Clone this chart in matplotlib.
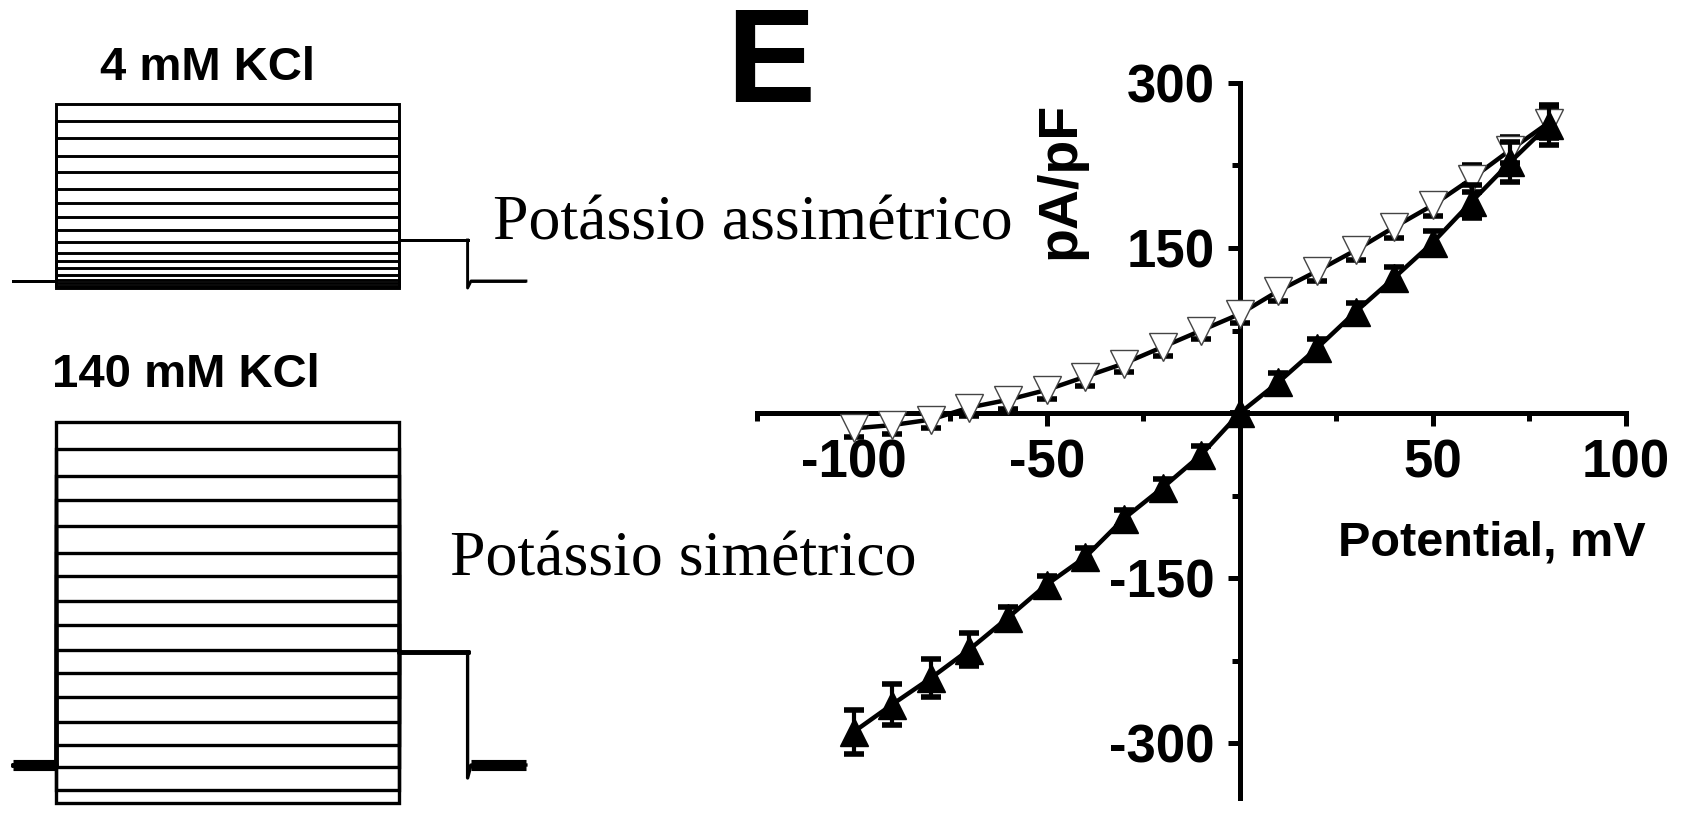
import matplotlib
matplotlib.use("Agg")
from matplotlib import pyplot as plt

plt.rcParams['font.family'] = ['Liberation Sans', 'DejaVu Sans']
plt.rcParams['font.weight'] = 'bold'
plt.rcParams['axes.unicode_minus'] = False

# ============================================================
# data
# ============================================================
# I-V curve (pA/pF vs mV)
potential_mv = [-100, -90, -80, -70, -60, -50, -40, -30, -20, -10,
                0, 10, 20, 30, 40, 50, 60, 70, 80]
sym_mean = [-290, -265, -241, -215, -186, -156, -131, -96, -68, -38,
            0, 28, 59, 92, 123, 155, 192, 228, 262]
sym_err = [20, 19, 17, 15, 10, 8, 8, 8, 8, 8,
           0, 8, 8, 8, 10, 10, 15, 18, 18]
asym_mean = [-14, -11, -6, 5, 12, 21, 33, 45, 60, 75,
             90, 111, 129, 148, 169, 189, 213, 239, 264]
asym_err = [8, 8, 8, 8, 8, 8, 8, 8, 8, 8,
            8, 9, 9, 9, 10, 10, 12, 12, 14]

x_major = [-100, -50, 50, 100]
x_major_labels = ['-100', '-50', '50', '100']
x_minor = [-125, -75, -25, 25, 75]
y_major = [-300, -150, 150, 300]
y_major_labels = ['-300', '-150', '150', '300']
y_minor = [-225, -75, 75, 225]

# current traces (ms, nA)
# start, step on, step off, tail end, recovery, stop
trace_times = [-50, 0, 400, 480, 484, 548]
kcl4_levels = [1.77, 1.60, 1.43, 1.25, 1.09, 0.92, 0.78, 0.64, 0.51,
               0.39, 0.28, 0.20, 0.13, 0.06, 0.01, -0.02, -0.05, -0.07]
kcl4_tail = 0.41
kcl4_undershoot = -0.07
kcl140_levels = [6.86, 6.32, 5.78, 5.30, 4.78, 4.24, 3.78, 3.28, 2.80,
                 2.30, 1.84, 1.36, 0.86, 0.40, -0.04, -0.50, -0.76]
kcl140_tail = 2.26
kcl140_undershoot = -0.26

# ============================================================
# figure
# ============================================================
W, H = 1687, 813
fig = plt.figure(figsize=(W / 100, H / 100), dpi=100)


def px_axes(x0, y0, x1, y1):
    # axes from pixel box (top-left origin)
    return fig.add_axes([x0 / W, 1 - y1 / H, (x1 - x0) / W, (y1 - y0) / H])


def draw_traces(ax, levels, tail, under, base_lw, lw):
    t0, t_on, t_off, t_tail, t_rec, t_end = trace_times
    for lvl in levels:
        ax.plot([t0, t_on, t_on, t_off, t_off, t_tail],
                [0, 0, lvl, lvl, tail, tail], color='black', lw=lw,
                solid_joinstyle='miter')
    ax.plot([t_tail, t_tail, t_rec, t_end], [tail, under, 0, 0],
            color='black', lw=lw)
    ax.plot([t0, t_on], [0, 0], color='black', lw=base_lw,
            solid_capstyle='butt')
    ax.plot([t_rec, t_end], [0, 0], color='black', lw=base_lw,
            solid_capstyle='butt')
    ax.set_xlim(-60, 560)
    ax.axis('off')


# 4 mM KCl traces
ax1 = px_axes(4.55, 90, 536.2, 305)
draw_traces(ax1, kcl4_levels, kcl4_tail, kcl4_undershoot, 2.0, 2.1)
ax1.set_ylim(-0.24, 1.91)

# 140 mM KCl traces
ax2 = px_axes(4.55, 405, 536.2, 813)
draw_traces(ax2, kcl140_levels, kcl140_tail, kcl140_undershoot, 8.0, 2.4)
ax2.set_ylim(-0.96, 7.2)

fig.text(208 / W, 1 - 80 / H, '4 mM KCl', ha='center', va='baseline',
         fontsize=34)
fig.text(186 / W, 1 - 387 / H, '140 mM KCl', ha='center', va='baseline',
         fontsize=34)

# I-V plot
ax = px_axes(757, 83, 1626, 798)
ax.plot(potential_mv, asym_mean, color='black', lw=3.2, zorder=2)
ax.errorbar(potential_mv, asym_mean, yerr=asym_err, fmt='none',
            ecolor='black', elinewidth=1.2, capsize=7, capthick=4, zorder=3)
ax.plot(potential_mv, asym_mean, 'v', ms=20, mfc='white', mec='#444444',
        mew=1.0, zorder=4)

ax.plot(potential_mv, sym_mean, color='black', lw=3.2, zorder=5)
ax.errorbar(potential_mv, sym_mean, yerr=sym_err, fmt='none',
            ecolor='black', elinewidth=3, capsize=7, capthick=4, zorder=5)
ax.plot(potential_mv, sym_mean, '^', ms=20, mfc='black', mec='black',
        mew=1.0, zorder=6)

ax.set_xlim(-125, 100)
ax.set_ylim(-350, 300)
for side in ['top', 'right']:
    ax.spines[side].set_visible(False)
for side in ['left', 'bottom']:
    ax.spines[side].set_position(('data', 0))
    ax.spines[side].set_linewidth(3.6)
ax.set_xticks(x_major)
ax.set_xticklabels(x_major_labels)
ax.set_xticks(x_minor, minor=True)
ax.set_yticks(y_major)
ax.set_yticklabels(y_major_labels)
ax.set_yticks(y_minor, minor=True)
ax.tick_params(which='major', direction='out', length=9, width=3.6,
               labelsize=38, pad=9)
ax.tick_params(which='minor', direction='out', length=6, width=3.6)
ax.patch.set_visible(False)

fig.text(771 / W, 1 - 102 / H, 'E', ha='center', va='baseline', fontsize=96)
fig.text(1060 / W, 1 - 180 / H, 'pA/pF', rotation=90, ha='center',
         va='center', fontsize=40)
fig.text(1492 / W, 1 - 543 / H, 'Potential, mV', ha='center', va='center',
         fontsize=35)
fig.text(493 / W, 1 - 239 / H, 'Potássio assimétrico', ha='left',
         va='baseline', fontsize=46, fontweight='normal',
         family=['Liberation Serif', 'DejaVu Serif'])
fig.text(450 / W, 1 - 576 / H, 'Potássio simétrico', ha='left',
         va='baseline', fontsize=46, fontweight='normal',
         family=['Liberation Serif', 'DejaVu Serif'])

fig.savefig('out.png', dpi=100)
